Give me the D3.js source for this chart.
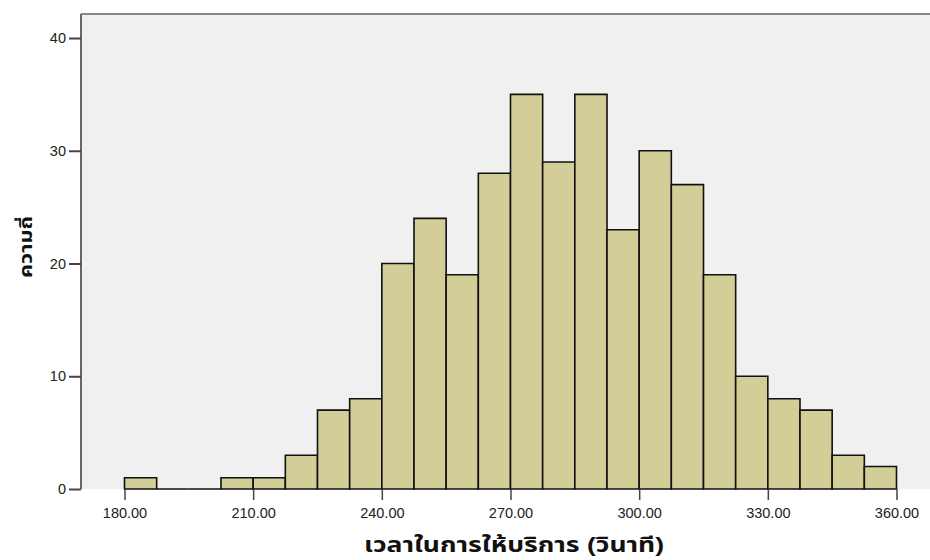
<!DOCTYPE html>
<html><head><meta charset="utf-8">
<script src="https://cdn.jsdelivr.net/npm/d3@7/dist/d3.min.js"></script>
<style>body{margin:0;background:#fff}svg{display:block}</style>
</head><body>
<script>
const binStarts = [180,187.5,195,202.5,210,217.5,225,232.5,240,247.5,255,262.5,270,277.5,285,292.5,300,307.5,315,322.5,330,337.5,345,352.5];
const counts = [1,0,0,1,1,3,7,8,20,24,19,28,35,29,35,23,30,27,19,10,8,7,3,2];
const binWidth = 7.5;
const xTicks = [180,210,240,270,300,330,360];
const yTicks = [0,10,20,30,40];
const xTitle = "เวลาในการให้บริการ (วินาที)";
const yTitle = "ความถี่";

(function(){
const W = 930, H = 560;
const svg = d3.select("body").append("svg").attr("width", W).attr("height", H);
const pL = 81, pT = 14, pB = 489, pR = 935;
const x = d3.scaleLinear().domain([180, 360]).range([124.5, 896.5]);
const y = d3.scaleLinear().domain([0, 42.13]).range([pB, pT]);

svg.append("rect").attr("x", pL).attr("y", pT).attr("width", pR-pL).attr("height", pB-pT).attr("fill", "#f0f0f0");
svg.append("line").attr("x1", pL).attr("x2", pR).attr("y1", pT).attr("y2", pT).attr("stroke", "#888").attr("stroke-width", 2);

svg.selectAll("path.bar").data(binStarts).enter().append("path").attr("class","bar")
  .attr("d", (d,i) => {
    const x0 = x(d), x1 = x(d+binWidth), y0 = y(0), y1 = y(counts[i]);
    return `M${x0},${y0}V${y1}H${x1}V${y0}Z`;
  })
  .attr("fill", "#d3ce97").attr("stroke", "#111").attr("stroke-width", 1.6);

const font = "Arial, 'Liberation Sans', 'Noto Sans Thai', 'Noto Sans', sans-serif";
const yAxis = d3.axisLeft(y).tickValues(yTicks).tickFormat(d3.format("d")).tickSize(12).tickPadding(3);
const gy = svg.append("g").attr("transform", `translate(${pL},0)`).call(yAxis);
gy.select(".domain").attr("stroke", "#666").attr("stroke-width", 2).attr("d", `M0,${pT}V${pB}`);
gy.selectAll(".tick line").attr("stroke", "#444").attr("stroke-width", 2);
gy.selectAll(".tick text").attr("fill", "#222").style("font-family", font).style("font-size", "14.5px");

const xAxis = d3.axisBottom(x).tickValues(xTicks).tickFormat(d3.format(".2f")).tickSize(11).tickPadding(8);
const gx = svg.append("g").attr("transform", `translate(0,${pB})`).call(xAxis);
gx.select(".domain").remove();
gx.selectAll(".tick line").attr("stroke", "#444").attr("stroke-width", 1.5);
gx.selectAll(".tick text").attr("fill", "#222").style("font-family", font).style("font-size", "14.5px");

svg.append("text").attr("x", 514).attr("y", 552).attr("text-anchor", "middle")
  .attr("textLength", 300).attr("lengthAdjust", "spacingAndGlyphs")
  .style("font-family", font).style("font-size", "21px").style("font-weight", "bold").attr("fill", "#111").text(xTitle);
svg.append("text").attr("transform", "translate(32,247) rotate(-90)").attr("text-anchor", "middle")
  .attr("textLength", 62).attr("lengthAdjust", "spacingAndGlyphs")
  .style("font-family", font).style("font-size", "17px").style("font-weight", "bold").attr("fill", "#111").text(yTitle);
})();
</script>
</body></html>
